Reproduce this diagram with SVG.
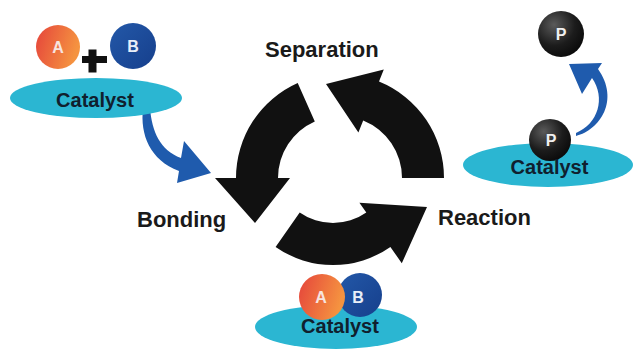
<svg xmlns="http://www.w3.org/2000/svg" width="634" height="356" viewBox="0 0 634 356">
<defs>
<linearGradient id="gA" x1="0" y1="0" x2="1" y2="0.3"><stop offset="0" stop-color="#e5443b"/><stop offset="1" stop-color="#f59340"/></linearGradient>
<linearGradient id="gB" x1="0" y1="0" x2="1" y2="1"><stop offset="0" stop-color="#2358a8"/><stop offset="1" stop-color="#163f8c"/></linearGradient>
<radialGradient id="gP" cx="0.35" cy="0.3" r="0.75"><stop offset="0" stop-color="#5a5a5a"/><stop offset="0.6" stop-color="#1c1c1c"/><stop offset="1" stop-color="#0a0a0a"/></radialGradient>
<style>
.cyc{fill:#111111}
.lab{font-family:"Liberation Sans",Arial,sans-serif;font-weight:700;font-size:22px;fill:#1a1a1a}
.cat{fill:#2bb6d2}
.ct{font-family:"Liberation Sans",Arial,sans-serif;font-weight:700;font-size:20px;fill:#10202e;text-anchor:middle}
.lt{font-family:"Liberation Sans",Arial,sans-serif;font-weight:700;font-size:16px;fill:#f7e4e0;text-anchor:middle}
.lp{font-family:"Liberation Sans",Arial,sans-serif;font-weight:700;font-size:16px;fill:#f0f0f0;text-anchor:middle}
.blue{fill:#1f5bad}
</style>
</defs>
<rect width="634" height="356" fill="#ffffff"/>

<g id="cycle-connectors">
<path id="arrow-separation-bonding" class="cyc" d="M 297.7,83 A 104 104 0 0 0 236,178 L 215,178 L 255,223 L 290,178 L 278,178 A 62 62 0 0 1 314.8,121.4 Z"/>
<path id="arrow-reaction-separation" class="cyc" d="M 444,178 A 104 104 0 0 0 379,81.6 L 383.8,69.5 L 326,84 L 358.4,132.6 L 363.2,120.5 A 62 62 0 0 1 402,178 Z"/>
<path id="arrow-bonding-reaction" class="cyc" d="M 275.6,246.9 A 100 100 0 0 0 390.4,246.9 L 401.8,263.3 L 427,207 L 359.4,202.7 L 366.3,212.5 A 58 58 0 0 1 299.7,212.5 Z"/>
<path id="arrow-left-blue" class="blue" d="M 143,108 C 140,135 150,160 179,171 L 177,183 L 211,173 L 184,141 L 181,158 C 160,150 152,132 150,108 Z"/>
<path id="arrow-right-blue" class="blue" d="M 576,136 C 600,130 620,100 598,69 L 602,63 L 569,64 L 582,94 L 592,78 C 606,98 598,124 576,133 Z"/>
</g>

<g id="label-separation"><text class="lab" x="265" y="57">Separation</text></g>
<g id="label-bonding"><text class="lab" x="137" y="227">Bonding</text></g>
<g id="label-reaction"><text class="lab" x="438" y="225">Reaction</text></g>

<g id="reactants">
<ellipse class="cat" cx="96" cy="98" rx="86" ry="20"/>
<text class="ct" x="95" y="107">Catalyst</text>
<circle cx="58" cy="47" r="22" fill="url(#gA)"/>
<text class="lt" x="58" y="52.5">A</text>
<circle cx="133" cy="46" r="23" fill="url(#gB)"/>
<text class="lt" x="133" y="52" style="fill:#e8eef8">B</text>
<rect x="82" y="56" width="25" height="7" fill="#111"/>
<rect x="88.5" y="49.5" width="8" height="23" fill="#111"/>
</g>

<g id="bonded">
<ellipse class="cat" cx="336" cy="327" rx="81" ry="22"/>
<circle cx="360" cy="295" r="22" fill="url(#gB)"/>
<circle cx="322" cy="297" r="23" fill="url(#gA)"/>
<text class="lt" x="321" y="303">A</text>
<text class="lt" x="358" y="303" style="fill:#e8eef8">B</text>
<text class="ct" x="340" y="333">Catalyst</text>
</g>

<g id="product">
<ellipse class="cat" cx="548" cy="165" rx="85" ry="22"/>
<circle cx="550" cy="140" r="21" fill="url(#gP)"/>
<text class="lp" x="551" y="146">P</text>
<text class="ct" x="549.5" y="174">Catalyst</text>
<circle cx="561" cy="34" r="23" fill="url(#gP)"/>
<text class="lp" x="561" y="40">P</text>
</g>
</svg>
